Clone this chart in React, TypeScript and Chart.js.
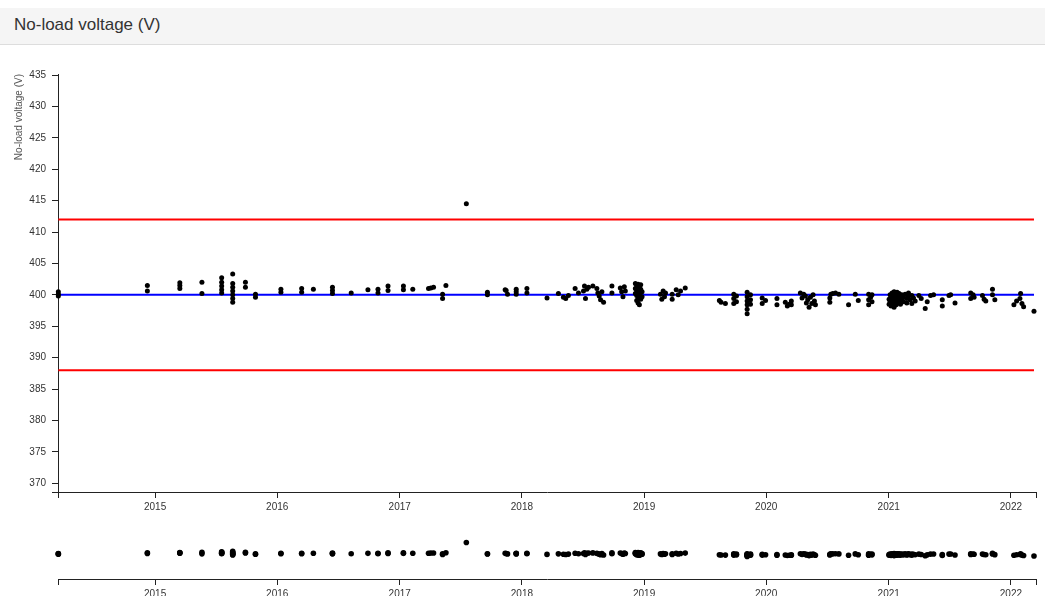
import { useEffect, useRef } from 'react';
import { Chart, registerables } from 'chart.js';

Chart.register(...registerables);

// ---- chart text ----
const panelTitle = 'No-load voltage (V)';
const voltAxisTitle = 'No-load voltage (V)';

// ---- axis extents and tick values ----
const axisStart = '2014-03-17';
const axisEnd = '2022-03-17';
const yearTicks = [2015, 2016, 2017, 2018, 2019, 2020, 2021, 2022];
const voltTicks = [370, 375, 380, 385, 390, 395, 400, 405, 410, 415, 420, 425, 430, 435];
const voltMin = 368.6;
const voltMax = 435.16;

// ---- reference levels ----
const upperLimit = 412;
const nominalVoltage = 400;
const lowerLimit = 388;

// ---- measurements: one date per visit, one or more readings per visit ----
const readingDates = [
  '2014-03-18', '2014-12-09', '2015-03-16', '2015-05-21', '2015-07-19', '2015-08-21',
  '2015-09-28', '2015-10-28', '2016-01-12', '2016-03-14', '2016-04-18', '2016-06-14',
  '2016-08-09', '2016-09-28', '2016-10-28', '2016-11-27', '2017-01-12', '2017-02-09',
  '2017-03-28', '2017-04-04', '2017-04-12', '2017-05-09', '2017-05-19', '2017-07-19',
  '2017-09-20', '2017-11-12', '2017-11-15', '2017-11-19', '2017-12-15', '2018-01-16',
  '2018-03-17', '2018-04-20', '2018-05-05', '2018-05-12', '2018-05-20', '2018-06-09',
  '2018-06-19', '2018-07-04', '2018-07-07', '2018-07-10', '2018-07-14', '2018-07-19',
  '2018-08-01', '2018-08-13', '2018-08-16', '2018-08-20', '2018-08-24', '2018-08-28',
  '2018-09-02', '2018-09-27', '2018-10-22', '2018-10-26', '2018-10-30', '2018-11-03',
  '2018-11-06', '2018-12-06', '2018-12-10', '2018-12-14', '2018-12-18', '2018-12-22',
  '2018-12-26', '2019-02-19', '2019-02-23', '2019-02-27', '2019-03-03', '2019-03-06',
  '2019-03-26', '2019-04-07', '2019-04-13', '2019-04-20', '2019-05-04', '2019-08-14',
  '2019-08-19', '2019-09-01', '2019-09-26', '2019-10-04', '2019-11-05', '2019-11-15',
  '2019-12-20', '2019-12-30', '2020-02-02', '2020-02-27', '2020-03-04', '2020-03-10',
  '2020-03-16', '2020-04-12', '2020-04-17', '2020-04-22', '2020-04-27', '2020-04-30',
  '2020-05-04', '2020-05-08', '2020-05-12', '2020-05-16', '2020-05-20', '2020-05-24',
  '2020-05-27', '2020-07-09', '2020-07-12', '2020-07-18', '2020-07-26', '2020-08-05',
  '2020-09-03', '2020-09-23', '2020-10-02', '2020-11-02', '2020-11-08', '2020-11-12',
  '2021-01-02', '2021-01-05', '2021-01-08', '2021-01-11', '2021-01-14', '2021-01-17',
  '2021-01-20', '2021-01-23', '2021-01-26', '2021-01-29', '2021-02-01', '2021-02-05',
  '2021-02-09', '2021-02-14', '2021-02-19', '2021-02-24', '2021-03-01', '2021-03-06',
  '2021-03-11', '2021-03-16', '2021-03-21', '2021-04-01', '2021-04-08', '2021-04-20',
  '2021-04-26', '2021-05-06', '2021-05-15', '2021-06-10', '2021-06-30', '2021-07-05',
  '2021-07-18', '2021-09-03', '2021-09-10', '2021-09-13', '2021-10-08', '2021-10-13',
  '2021-10-18', '2021-11-07', '2021-11-14', '2022-01-10', '2022-01-18', '2022-01-28',
  '2022-01-30', '2022-02-03', '2022-02-08', '2022-03-11',
];

const readingVolts = [
  [400.5, 400.1, 399.8], [401.5, 400.6], [401.9, 401.5, 401.0], [402.0, 400.2],
  [402.7, 402.0, 401.4, 400.8, 400.3], [403.3, 401.8, 401.2, 400.6, 400.0, 399.4, 398.8],
  [402.0, 401.2], [400.1, 399.6], [400.9, 400.4], [401.0, 400.4], [400.9], [401.2, 400.7, 400.2],
  [400.3], [400.8], [400.9, 400.3], [401.4, 400.7], [401.4, 400.8], [400.9],
  [401.0], [401.1], [401.2], [400.1, 399.4], [401.5], [414.5],
  [400.4, 400.0], [400.8], [400.7], [400.1], [400.9, 400.5, 400.1], [401.0, 400.3],
  [399.5], [400.2], [399.6], [399.4], [399.9], [401.0],
  [400.3], [400.6], [401.4], [399.4], [400.9], [401.2],
  [401.4], [401.0], [400.3], [399.8], [399.2], [400.5],
  [398.8], [401.4, 400.3], [401.1], [400.5], [399.7], [401.3],
  [400.6], [401.8, 401.0, 400.2], [401.5, 400.7, 399.9, 399.1], [401.7, 400.4, 399.5, 398.7],
  [401.2, 400.0, 398.4], [401.6, 400.9, 399.3],
  [400.5, 399.7], [400.1], [399.3], [400.6], [399.7], [400.3],
  [400.1, 399.3], [400.8], [400.0], [400.6], [401.1], [399.1],
  [398.8], [398.6], [400.1, 399.4, 398.6], [399.8, 398.9],
  [400.4, 399.7, 399.0, 398.4, 397.7, 397.0], [400.0, 399.2, 398.5],
  [399.5, 398.6], [399.1], [399.4, 398.4], [398.8], [398.2], [398.5],
  [399.0, 398.4], [400.3], [399.5], [400.1], [399.8], [398.7],
  [399.2], [398.0], [399.6], [398.6], [400.0], [399.0],
  [398.4], [399.5, 398.8], [400.1], [400.2], [400.3], [400.1],
  [398.4], [400.1], [399.1], [400.1, 399.2, 398.4], [399.6], [400.0, 398.9],
  [399.3, 398.5], [400.0, 398.9], [399.6, 398.2], [400.3, 399.1], [399.8, 398.6], [400.5, 399.4, 398.0],
  [400.1, 398.8], [399.7, 398.4], [400.4, 399.2], [399.9, 398.7], [400.2, 399.0], [399.5, 398.5],
  [400.0, 399.3], [399.6, 398.9], [400.1], [399.4, 398.7], [400.3, 399.8], [399.2],
  [399.9, 398.6], [399.5], [399.0], [399.9], [399.4], [397.8],
  [398.9], [399.9], [400.0], [399.2, 398.2], [399.9], [400.0],
  [398.7], [400.3, 399.4], [400.0], [399.6], [399.9], [399.3],
  [399.0], [400.9, 400.0], [399.2], [398.4], [399.0], [399.4],
  [400.2], [398.6], [398.1], [397.4],
];

const FONT_FAMILY = "'Liberation Sans', Arial, Helvetica, sans-serif";
const AXIS_COLOR = '#222';
const LABEL_COLOR = '#333';

const toTime = (d: string) => Date.parse(d + 'T00:00:00Z');
const yearTime = (y: number) => Date.UTC(y, 0, 1);

const readingPoints = readingDates.flatMap((d, i) =>
  readingVolts[i].map((v) => ({ x: toTime(d), y: v }))
);
const firstTime = toTime(readingDates[0]);
const lastTime = toTime(readingDates[readingDates.length - 1]);
const levelLine = (v: number) => [
  { x: firstTime, y: v },
  { x: lastTime, y: v },
];

const xMin = toTime(axisStart);
const xMax = toTime(axisEnd);

function timeAxis(height: number) {
  return {
    type: 'linear' as const,
    position: 'bottom' as const,
    min: xMin,
    max: xMax,
    afterBuildTicks: (scale: any) => {
      scale.ticks = [xMin, ...yearTicks.map(yearTime), xMax].map((value) => ({ value }));
    },
    afterFit: (scale: any) => {
      scale.height = height;
    },
    ticks: {
      autoSkip: false,
      maxRotation: 0,
      minRotation: 0,
      padding: 3,
      color: LABEL_COLOR,
      font: { family: FONT_FAMILY, size: 10 },
      callback: (value: any) => {
        const year = yearTicks.find((y) => yearTime(y) === value);
        return year === undefined ? '' : String(year);
      },
    },
    grid: { drawOnChartArea: false, drawTicks: true, tickLength: 6, color: AXIS_COLOR, lineWidth: 1 },
    border: { display: true, color: AXIS_COLOR, width: 1 },
  };
}

function readingsDataset(radius: number) {
  return {
    label: 'readings',
    data: readingPoints,
    showLine: false,
    pointRadius: radius,
    pointHoverRadius: radius,
    pointBackgroundColor: '#000',
    pointBorderColor: '#000',
    pointBorderWidth: 0,
    clip: false as const,
    order: 0,
  };
}

function levelDataset(label: string, value: number, color: string) {
  return {
    label,
    data: levelLine(value),
    showLine: true,
    borderColor: color,
    borderWidth: 2,
    pointRadius: 0,
    fill: false,
    order: 1,
  };
}

function MainChart() {
  const ref = useRef<HTMLCanvasElement | null>(null);
  useEffect(() => {
    if (!ref.current) return;
    const chart = new Chart(ref.current, {
      type: 'scatter',
      data: {
        datasets: [
          readingsDataset(2.5) as any,
          levelDataset('upper limit', upperLimit, '#ff0000'),
          levelDataset('nominal', nominalVoltage, '#0000ff'),
          levelDataset('lower limit', lowerLimit, '#ff0000'),
        ],
      },
      options: {
        animation: false,
        responsive: false,
        events: [],
        layout: { padding: { top: 24, right: 9, bottom: 0, left: 0 } },
        plugins: { legend: { display: false }, tooltip: { enabled: false } },
        scales: {
          x: timeAxis(24) as any,
          y: {
            type: 'linear',
            position: 'left',
            min: voltMin,
            max: voltMax,
            afterBuildTicks: (scale: any) => {
              scale.ticks = [voltMin, ...voltTicks].map((value) => ({ value }));
            },
            afterFit: (scale: any) => {
              scale.width = 58;
            },
            ticks: {
              autoSkip: false,
              padding: 6,
              color: LABEL_COLOR,
              font: { family: FONT_FAMILY, size: 10 },
              callback: (value: any) => (voltTicks.includes(value) ? String(value) : ''),
            },
            grid: { drawOnChartArea: false, drawTicks: true, tickLength: 6, color: AXIS_COLOR, lineWidth: 1 },
            border: { display: true, color: AXIS_COLOR, width: 1 },
            title: {
              display: true,
              text: voltAxisTitle,
              align: 'end',
              color: '#555',
              font: { family: FONT_FAMILY, size: 10 },
              padding: { top: 13, bottom: 0 },
            },
          } as any,
        },
      },
    });
    return () => chart.destroy();
  }, []);
  return (
    <canvas
      ref={ref}
      width={1045}
      height={466}
      style={{ position: 'absolute', left: 0, top: 50, width: 1045, height: 466 }}
    />
  );
}

function OverviewChart() {
  const ref = useRef<HTMLCanvasElement | null>(null);
  useEffect(() => {
    if (!ref.current) return;
    const chart = new Chart(ref.current, {
      type: 'scatter',
      data: { datasets: [readingsDataset(2.8) as any] },
      options: {
        animation: false,
        responsive: false,
        events: [],
        layout: { padding: { top: 10, right: 9, bottom: 0, left: 58 } },
        plugins: { legend: { display: false }, tooltip: { enabled: false } },
        scales: {
          x: timeAxis(17) as any,
          y: { type: 'linear', display: false, min: voltMin, max: voltMax },
        },
      },
    });
    return () => chart.destroy();
  }, []);
  return (
    <canvas
      ref={ref}
      width={1045}
      height={80}
      style={{ position: 'absolute', left: 0, top: 516, width: 1045, height: 80 }}
    />
  );
}

export default function App() {
  return (
    <div
      style={{
        position: 'fixed',
        left: 0,
        top: 0,
        width: 1045,
        height: 596,
        background: '#fff',
        overflow: 'hidden',
      }}
    >
      <div
        style={{
          position: 'absolute',
          left: 0,
          top: 8,
          width: 1045,
          height: 37,
          boxSizing: 'border-box',
          background: '#f5f5f5',
          borderBottom: '1px solid #dddddd',
          paddingLeft: 14,
          fontFamily: FONT_FAMILY,
          fontSize: 17,
          lineHeight: '34px',
          color: '#333',
        }}
      >
        {panelTitle}
      </div>
      <MainChart />
      <OverviewChart />
    </div>
  );
}
